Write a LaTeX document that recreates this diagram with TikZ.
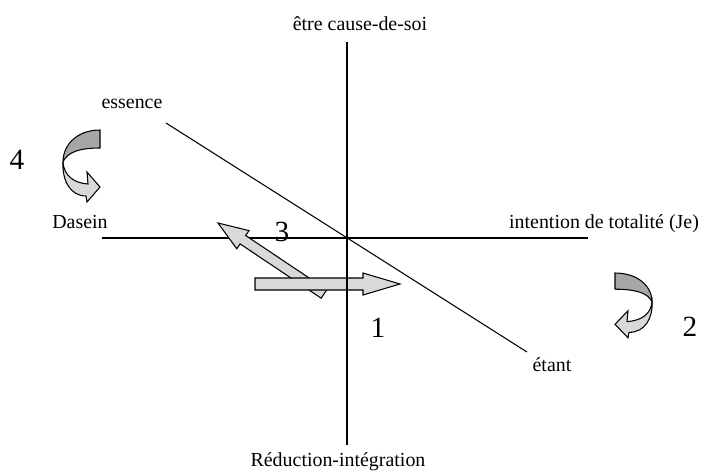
\documentclass[tikz,border=0pt]{standalone}
\usepackage{fontspec}
\setmainfont{Liberation Serif}
\usepackage{xcolor}
\usepackage{tikz}
\usetikzlibrary{calc}

\begin{document}
\begin{tikzpicture}[x=0.03cm, y=-0.03cm,
    lbl/.style={font=\fontsize{17}{20}\selectfont, inner sep=0pt, anchor=base},
    num/.style={font=\fontsize{25}{30}\selectfont, inner sep=0pt},
    trait/.style={line width=0.9pt},
    fleche/.style={draw=black, line width=0.9pt, fill=black!15, line join=miter},
    courbe/.pic={
        \filldraw[line width=0.9pt, fill=black!35]
            (0,0) .. controls (-22,0) and (-37,14) .. (-37,32)
            .. controls (-33,22) and (-20,18) .. (0,18) -- cycle;
        \filldraw[line width=0.9pt, fill=black!15]
            (-37,32) .. controls (-36,46) and (-26,53) .. (-12,54)
            -- (-13,42) -- (0,57) -- (-13,72) -- (-14,66)
            .. controls (-30,66) and (-38,50) .. (-37,32) -- cycle;
    }]
    \useasboundingbox (0,0) rectangle (701,472);

    % Extremites des axes
    \coordinate (haut) at (347,42);
    \coordinate (bas) at (347,445);
    \coordinate (gauche) at (102,238);
    \coordinate (droite) at (588,238);
    \coordinate (ess) at (166,123);
    \coordinate (eta) at (527,352);

    % Textes
    \node[lbl] (cause) at (360,30) {être cause-de-soi};
    \node[lbl] (reduc) at (338,466) {Réduction-intégration};
    \node[lbl] (essence) at (132,108) {essence};
    \node[lbl] (dasein) at (80,228) {Dasein};
    \node[lbl] (totalite) at (604,228) {intention de totalité (Je)};
    \node[lbl] (etant) at (552,371) {étant};
    \node[num] (un) at (378,328) {1};
    \node[num] (deux) at (690,327) {2};
    \node[num] (trois) at (282,232) {3};
    \node[num] (quatre) at (17,160) {4};

    % Axes
    \draw[trait] (gauche) -- (droite);
    \draw[trait] (ess) -- (eta);

    % Fleches droites
    \draw[fleche] (326.8,289.8) -- (245.7,235.5) -- (249.0,230.6) -- (218,223)
        -- (236.8,248.8) -- (240.1,243.9) -- (321.2,298.2) -- cycle;
    \draw[fleche] (255,278) -- (363,278) -- (363,273) -- (400,284)
        -- (363,295) -- (363,290) -- (255,290) -- cycle;
    \draw[trait] (haut) -- (bas);

    % Fleches courbes
    \pic at (100,130) {courbe};
    \pic[xscale=-1, yscale=0.9] at (615,273) {courbe};
\end{tikzpicture}
\end{document}
